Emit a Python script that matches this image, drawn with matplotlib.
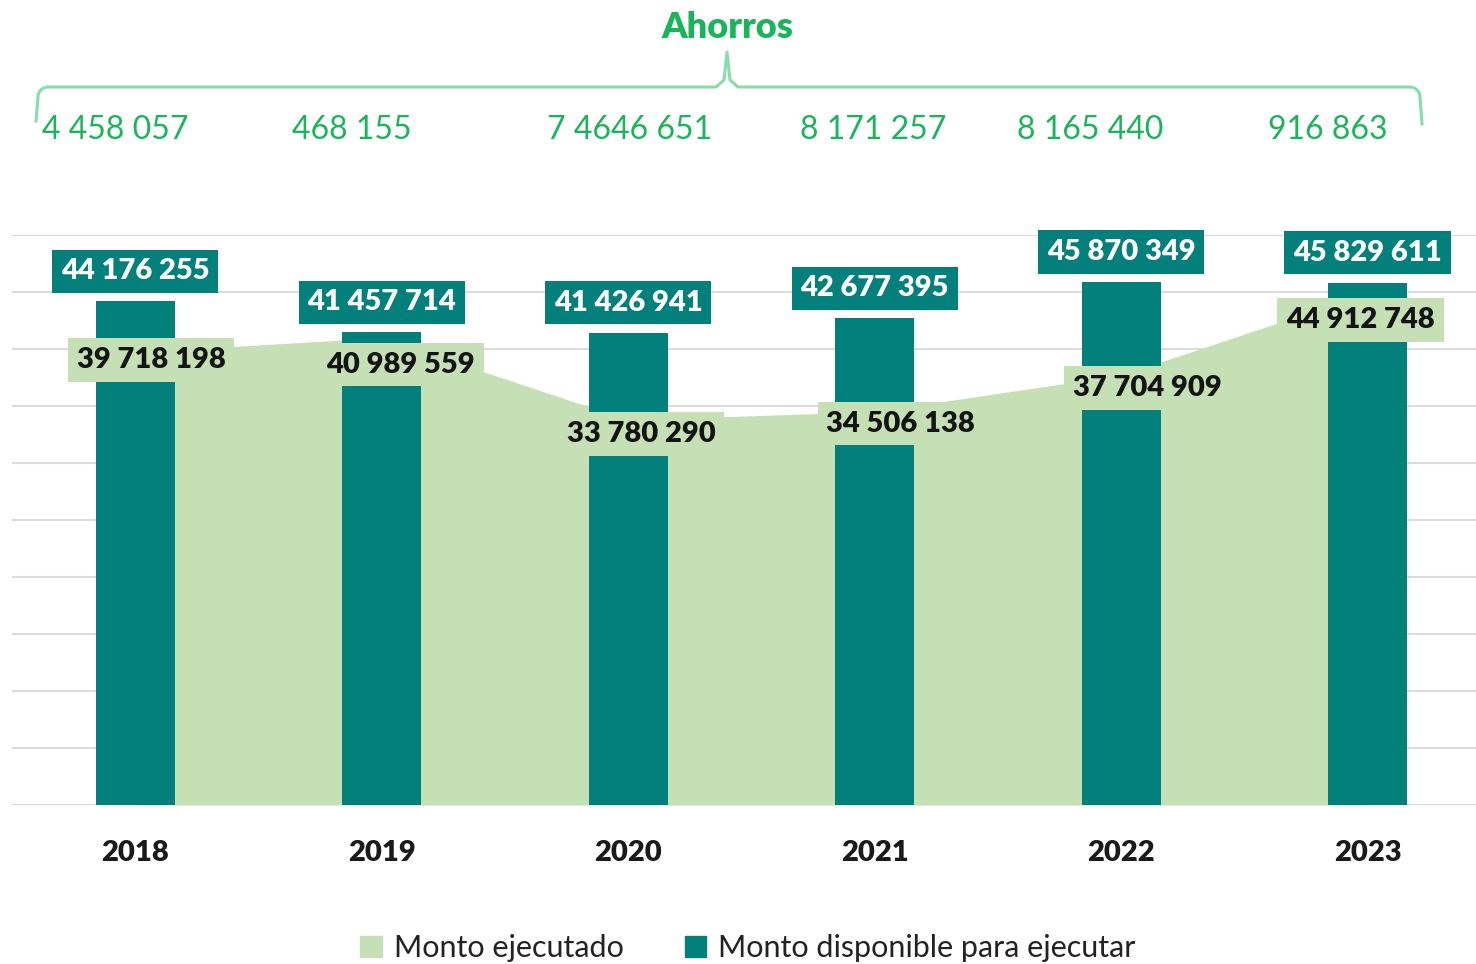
import numpy as np
import matplotlib
matplotlib.use("Agg")
import matplotlib.pyplot as plt
from matplotlib.lines import Line2D
from matplotlib.patches import Patch

plt.rcParams['font.family'] = ['Lato', 'DejaVu Sans']

# datos
years = ["2018", "2019", "2020", "2021", "2022", "2023"]
disponible = [44176255, 41457714, 41426941, 42677395, 45870349, 45829611]
ejecutado = [39718198, 40989559, 33780290, 34506138, 37704909, 44912748]
ahorros_labels = ["4 458 057", "468 155", "7 4646 651", "8 171 257", "8 165 440", "916 863"]

TEAL = "#037F7C"
LIGHT = "#C5E0B4"
GREEN = "#1AB45A"
BRACE = "#86DDAA"

W, H = 1476, 964
fig = plt.figure(figsize=(W / 100, H / 100), dpi=100)
ax = fig.add_axes([12 / W, (H - 805) / H, 1464 / W, 570 / H])

x = np.arange(len(years))
ax.fill_between(x, ejecutado, color=LIGHT, zorder=1, linewidth=0)
ax.bar(x, disponible, width=0.32, color=TEAL, zorder=2)

ax.set_xlim(-0.5, 5.44)
ax.set_ylim(0, 50_000_000)
ax.set_yticks(np.arange(0, 50_000_001, 5_000_000))
ax.yaxis.grid(True, color="#DCDCDC", linewidth=1.5, zorder=0)
ax.set_axisbelow(True)
ax.tick_params(axis="y", left=False, labelleft=False)
ax.tick_params(axis="x", bottom=False, pad=22)
ax.set_xticks(x)
ax.set_xticklabels(years, fontsize=21, fontweight="heavy", color="#1A1A1A")
for s in ax.spines.values():
    s.set_visible(False)

def fmt(v):
    return f"{v:,}".replace(",", " ")

# etiquetas de barras
for i, v in enumerate(disponible):
    ax.annotate(fmt(v), (i, v), xytext=(0, 30), textcoords="offset pixels",
                ha="center", va="center", fontsize=21, fontweight="heavy", color="white",
                bbox=dict(boxstyle="square,pad=0.3", fc=TEAL, ec="none"), zorder=5)

# etiquetas del area (desplazadas como en el original)
area_offsets = [(16, -8), (19, -27), (13, -14), (26, -12), (26, -13), (-7, -27)]
for i, v in enumerate(ejecutado):
    ax.annotate(fmt(v), (i, v), xytext=area_offsets[i], textcoords="offset pixels",
                ha="center", va="center", fontsize=21, fontweight="heavy", color="#141414",
                bbox=dict(boxstyle="square,pad=0.3", fc=LIGHT, ec="none"), zorder=6)

# llave de ahorros (coordenadas en pixeles)
a = np.linspace(0, np.pi / 2, 10)
r = 10
left_x = np.concatenate([[36], 38 + r - r * np.cos(a)])
left_y = np.concatenate([[121], 87 + r - r * np.sin(a)])
right_x = np.concatenate([1410 + r * np.sin(a), [1422]])
right_y = np.concatenate([87 + r - r * np.cos(a), [124]])
bx = np.concatenate([left_x, [716, 724, 727, 730, 738], right_x])
by = np.concatenate([left_y, [87, 80, 52, 80, 87], right_y])
fig.add_artist(Line2D(bx / W, (H - by) / H, color=BRACE, linewidth=2.2,
                      transform=fig.transFigure))

fig.text(727 / W, (H - 28) / H, "Ahorros", ha="center", va="center",
         fontsize=26, fontweight="heavy", color=GREEN)
ahorro_x = [115, 352, 630, 873, 1090, 1328]
for xp, lab in zip(ahorro_x, ahorros_labels):
    fig.text(xp / W, (H - 130) / H, lab, ha="center", va="center", fontsize=23, color=GREEN)

handles = [Patch(color=LIGHT, label="Monto ejecutado"),
           Patch(color=TEAL, label="Monto disponible para ejecutar")]
fig.legend(handles=handles, loc="center", bbox_to_anchor=(748 / W, (H - 948) / H),
           ncol=2, frameon=False, fontsize=22, handlelength=0.7, handleheight=0.7,
           handletextpad=0.4, columnspacing=2.0, labelcolor="#222222")

fig.savefig("out.png", dpi=100)
